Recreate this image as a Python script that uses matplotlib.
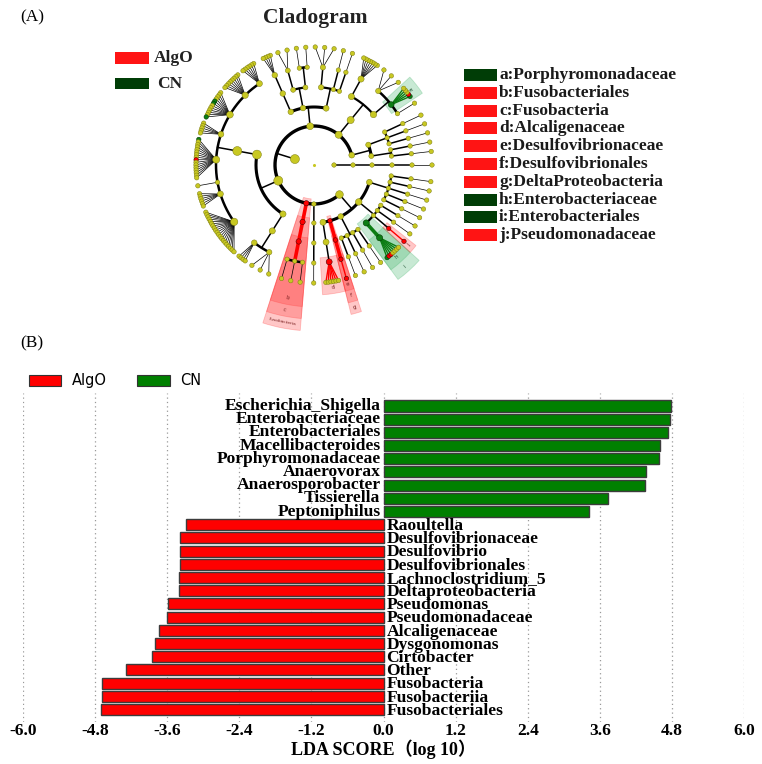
import numpy as np
import matplotlib

matplotlib.use("Agg")
import matplotlib.pyplot as plt
from matplotlib.patches import Rectangle, Patch

W, H = 762, 764
SERIF = ["Liberation Serif", "DejaVu Serif"]

# ---------------- panel B data (LDA scores) ----------------
CN_TAXA = ["Escherichia_Shigella", "Enterobacteriaceae", "Enterobacteriales",
           "Macellibacteroides", "Porphyromonadaceae", "Anaerovorax",
           "Anaerosporobacter", "Tissierella", "Peptoniphilus"]
CN_LDA = [4.79, 4.77, 4.74, 4.61, 4.59, 4.37, 4.35, 3.73, 3.42]

ALGO_TAXA = ["Raoultella", "Desulfovibrionaceae", "Desulfovibrio",
             "Desulfovibrionales", "Lachnoclostridium_5", "Deltaproteobacteria",
             "Pseudomonas", "Pseudomonadaceae", "Alcaligenaceae", "Dysgonomonas",
             "Cirtobacter", "Other", "Fusobacteria", "Fusobacteriia",
             "Fusobacteriales"]
ALGO_LDA = [3.28, 3.39, 3.39, 3.39, 3.40, 3.41, 3.59, 3.61, 3.73, 3.80,
            3.85, 4.29, 4.68, 4.68, 4.70]

LDA_TICKS = [-6.0, -4.8, -3.6, -2.4, -1.2, 0.0, 1.2, 2.4, 3.6, 4.8, 6.0]

# ---------------- panel A data (taxonomy tree) ----------------
# kingdom > phylum > class > order > family ; an int = number of genera in the family
KINGDOMS = [
    [[[[1]]]],
    [
        [[[1], [1]], [[1], [1], [1]]],
        [[[1, 5, 3], [7]]],
        [[[1], [1], [3]], [[1, 1], [2]], [[4]]],
        [[[6, 8, 12, 5, 16, 1, 6, 20]], [[4, 3]]],
        [[[1, 1, 1]]],
        [[[1]]],
        [[[6]], [[1]], [[1], [1], [1], [1]], [[7], [1], [1], [1]],
         [[1], [1], [1], [1], [1]]],
    ],
]

# significant clades (shaded), path into KINGDOMS
CLADE_PATHS = [(1, 1, 0, 0, 1), (1, 4), (1, 4, 0), (1, 4, 0, 0), (1, 6, 0, 0, 0),
               (1, 6, 1), (1, 6, 1, 0), (1, 6, 1, 0, 0), (1, 6, 3, 0),
               (1, 6, 3, 0, 0), (1, 6, 3, 1, 0)]
CLADE_GROUP = ["CN", "AlgO", "AlgO", "AlgO", "AlgO", "AlgO", "AlgO", "AlgO",
               "CN", "CN", "AlgO"]
CLADE_TAG = ["a", "Fusobacteria", "c", "b", "d", "g", "f", "e", "i", "h", "j"]

# significant genera (coloured nodes only)
GENUS_PATHS = [(1, 1, 0, 0, 1, 0), (1, 1, 0, 0, 1, 1), (1, 3, 0, 0, 2, 4),
               (1, 3, 0, 0, 2, 5), (1, 3, 0, 0, 2, 11), (1, 3, 0, 0, 4, 0),
               (1, 3, 0, 0, 4, 8), (1, 6, 1, 0, 0, 0), (1, 6, 3, 0, 0, 0),
               (1, 6, 3, 0, 0, 1), (1, 6, 3, 0, 0, 2), (1, 6, 3, 1, 0, 0)]
GENUS_GROUP = ["CN", "AlgO", "CN", "CN", "CN", "CN", "AlgO", "AlgO", "CN",
               "AlgO", "AlgO", "AlgO"]

LEGEND_TAGS = ["a:Porphyromonadaceae", "b:Fusobacteriales", "c:Fusobacteria",
               "d:Alcaligenaceae", "e:Desulfovibrionaceae", "f:Desulfovibrionales",
               "g:DeltaProteobacteria", "h:Enterobacteriaceae",
               "i:Enterobacteriales", "j:Pseudomonadaceae"]
LEGEND_GROUP = ["CN", "AlgO", "AlgO", "AlgO", "AlgO", "AlgO", "AlgO", "CN", "CN", "AlgO"]

# ---------------- style ----------------
RING = [0, 20, 39, 58, 78, 98, 118]      # radius (px) of each taxonomic level
NODE_C = {"AlgO": "#ff0000", "CN": "#0d7d14"}
SHADE_C = {"AlgO": "#ff3030", "CN": "#35b060"}
LEG_A = {"AlgO": "#ff1414", "CN": "#003d06"}
YELLOW = "#c8c822"


def px(x, y):
    return x / W, 1 - y / H


# ---------------- tree layout ----------------
nodes = {}      # path -> [depth, theta(deg), n_leaves]
kids = {}
cursor = [-4.3]


def place(node, depth, path):
    if depth == 2:
        cursor[0] += 2.0
    if isinstance(node, int):
        fan = node >= 4
        step = 1.25 if fan else 4.6
        pad = 2.0 if fan else 0.0
        ch = []
        for i in range(node):
            cp = path + (i,)
            nodes[cp] = [depth + 1, cursor[0] + pad / 2 + step * (i + 0.5), 1]
            ch.append(cp)
        cursor[0] += node * step + pad
    else:
        ch = []
        for i, sub in enumerate(node):
            cp = path + (i,)
            place(sub, depth + 1, cp)
            ch.append(cp)
    kids[path] = ch
    theta = 0.5 * (nodes[ch[0]][1] + nodes[ch[-1]][1])
    nodes[path] = [depth, theta, sum(nodes[c][2] for c in ch)]


place(KINGDOMS, 0, ())

colour = {}
for p, g in zip(CLADE_PATHS, CLADE_GROUP):
    colour[p] = g
for p, g in zip(GENUS_PATHS, GENUS_GROUP):
    colour[p] = g

# ---------------- figure ----------------
fig = plt.figure(figsize=(W / 100, H / 100), dpi=100, facecolor="white")

# cladogram in a polar axes centred on the tree
R_MAX = 175
cx, cy = 314, 165
ax = fig.add_axes([(cx - R_MAX) / W, (H - cy - R_MAX) / H, 2 * R_MAX / W, 2 * R_MAX / H],
                  projection="polar")
ax.set_rlim(0, R_MAX)
ax.set_axis_off()
rad = np.deg2rad

# shaded clades
for p, g, tag in zip(CLADE_PATHS, CLADE_GROUP, CLADE_TAG):
    d = nodes[p][0]
    leaves = [nodes[q][1] for q in nodes if q[:len(p)] == p and nodes[q][0] == 6]
    t0, t1 = min(leaves) - 2.0, max(leaves) + 2.0
    r_in = RING[d] - 5
    r_out = 130 + 12 * (5 - d)
    ax.bar(rad((t0 + t1) / 2), r_out - r_in, width=rad(t1 - t0), bottom=r_in,
           color=SHADE_C[g], alpha=0.27, edgecolor=SHADE_C[g], linewidth=0.6, zorder=1)
    tc = (t0 + t1) / 2
    ax.text(rad(tc), r_out - 6, tag, fontsize=3.2 if len(tag) > 1 else 4,
            color="#7a2020" if g == "AlgO" else "#1d5030",
            rotation=tc + 90, rotation_mode="anchor", ha="center", va="center", zorder=2)

# branches
LW = {1: 2.4, 2: 2.2, 3: 1.6, 4: 1.8, 5: 0.5}
for p, ch in kids.items():
    d, tp, _ = nodes[p]
    if d == 0:
        continue
    rp, rc = RING[d], RING[d + 1]
    pc = colour.get(p)
    if d == 5:
        for c in ch:
            col = NODE_C[pc] if pc else "black"
            ax.plot([rad(tp), rad(nodes[c][1])], [rp, rc], color=col,
                    lw=1.0 if pc else 0.5, zorder=2)
        continue
    ax.plot([rad(tp), rad(tp)], [rp, rc], color=NODE_C[pc] if pc else "black",
            lw=2.6 if pc else 1.1, zorder=2)
    ths = [nodes[c][1] for c in ch] + [tp]
    a0, a1 = min(ths), max(ths)
    if a1 - a0 > 300:
        a0, a1 = 0, 360
    if a1 > a0:
        tt = np.linspace(a0, a1, max(int(a1 - a0) * 2, 4))
        ax.plot(rad(tt), np.full(tt.size, rc), color="black", lw=LW[d], zorder=2)
    for c in ch:
        if pc and colour.get(c):
            tt = np.linspace(min(tp, nodes[c][1]), max(tp, nodes[c][1]), 8)
            ax.plot(rad(tt), np.full(tt.size, rc), color=NODE_C[pc], lw=2.6, zorder=2)

# nodes
paths = [p for p in nodes if nodes[p][0] >= 1]
th = np.array([rad(nodes[p][1]) for p in paths])
rr = np.array([RING[nodes[p][0]] for p in paths])
dia = np.array([min(3.6 + 0.85 * np.log2(1 + nodes[p][2]), 9.0) for p in paths])
face = [NODE_C[colour[p]] if p in colour else YELLOW for p in paths]
edge = ["#3a0000" if colour.get(p) == "AlgO" else "#003300" if colour.get(p) == "CN"
        else "#7d7d12" for p in paths]
ax.scatter(th, rr, s=(dia * 0.72) ** 2, c=face, edgecolors=edge, linewidths=0.35, zorder=4)
ax.scatter([0], [0], s=1.5, c=YELLOW, zorder=4)

# panel A texts and legends
fig.text(*px(20, 17), "(A)", family=SERIF, fontsize=12.5, va="center", ha="left")
fig.text(*px(315, 18), "Cladogram", family=SERIF, fontsize=15.5, fontweight="bold",
         va="center", ha="center", color="#222222")
for i, g in enumerate(["AlgO", "CN"]):
    y = 58 + 25.5 * i
    fig.patches.append(Rectangle(px(115, y + 5.5), 34 / W, 11 / H, transform=fig.transFigure,
                                 facecolor=LEG_A[g], edgecolor="none"))
    fig.text(*px(154 + 3 * i, y), g, family=SERIF, fontsize=12.5, fontweight="bold",
             va="center", ha="left", color="#222222")
for i, (lab, g) in enumerate(zip(LEGEND_TAGS, LEGEND_GROUP)):
    y = 75 + 17.8 * i
    fig.patches.append(Rectangle(px(464, y + 6), 33 / W, 12 / H, transform=fig.transFigure,
                                 facecolor=LEG_A[g], edgecolor="none"))
    fig.text(*px(499, y), lab, family=SERIF, fontsize=12.5, fontweight="bold",
             va="center", ha="left", color="#1a1a1a")

# ---------------- panel B: LDA bars ----------------
fig.text(*px(20, 343), "(B)", family=SERIF, fontsize=12.5, va="center", ha="left")

axb = fig.add_axes([23 / W, 42 / H, 721 / W, 351 / H])
labels = CN_TAXA + ALGO_TAXA
values = CN_LDA + [-v for v in ALGO_LDA]
ypos = np.arange(len(labels))
cols = ["#008000"] * len(CN_TAXA) + ["#ff0000"] * len(ALGO_TAXA)
axb.barh(ypos, values, height=0.84, color=cols, edgecolor="#3c3c3c", linewidth=1.0, zorder=3)
axb.set_ylim(len(labels) - 1 + 0.95, -2.65)
axb.set_xlim(LDA_TICKS[0], LDA_TICKS[-1])
for y, name, v in zip(ypos, labels, values):
    if v > 0:
        axb.text(-0.05, y, name, ha="right", va="center", family=SERIF,
                 fontsize=12.6, fontweight="bold", zorder=4)
    else:
        axb.text(0.05, y + 0.1, name, ha="left", va="center", family=SERIF,
                 fontsize=12.6, fontweight="bold", zorder=4)

axb.set_xticks(LDA_TICKS)
axb.set_xticklabels([f"{t:.1f}" for t in LDA_TICKS], family=SERIF, fontsize=12.5,
                    fontweight="bold")
axb.set_yticks([])
axb.tick_params(axis="x", length=0, pad=1)
for t in LDA_TICKS:
    axb.plot([t, t], [len(labels) - 1 + 0.95, -1.0], color="#999999", lw=0.9,
             ls=(0, (1, 2.5)), zorder=1)
for s in axb.spines.values():
    s.set_visible(False)
axb.set_xlabel("LDA SCORE（log 10）", family=["Liberation Serif", "Noto Sans CJK SC"],
               fontsize=13, fontweight="bold", labelpad=0)

handles = [Patch(facecolor="#ff0000", edgecolor="#333333", lw=0.8, label="AlgO"),
           Patch(facecolor="#008000", edgecolor="#333333", lw=0.8, label="CN")]
axb.legend(handles=handles, loc="upper left", bbox_to_anchor=(0.0, 1.01), ncol=2,
           frameon=False, prop={"family": "DejaVu Sans", "size": 10.5},
           handlelength=2.2, handleheight=0.75, handletextpad=0.75,
           columnspacing=2.1, borderaxespad=0.2, borderpad=0.2)

fig.savefig("out.png", dpi=100, facecolor="white")
